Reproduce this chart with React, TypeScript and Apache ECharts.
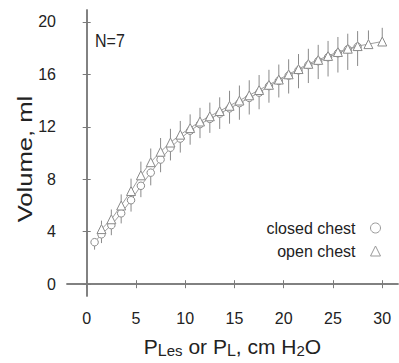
import React, { useEffect, useRef } from "react";
import * as echarts from "echarts";

const closedX = [0.8, 1.5, 2.5, 3.5, 4.5, 5.5, 6.5, 7.5, 8.5, 9.5, 10.5, 11.5, 12.5, 13.5, 14.5, 15.5, 16.5, 17.5, 18.5, 19.5, 20.5, 21.5, 22.5, 23.5, 24.5, 25.5, 26.5, 27.5];
const closedY = [3.2, 3.8, 4.5, 5.4, 6.4, 7.5, 8.5, 9.5, 10.4, 11.1, 11.7, 12.2, 12.6, 13.0, 13.4, 13.8, 14.2, 14.6, 15.1, 15.5, 15.9, 16.3, 16.7, 17.0, 17.3, 17.6, 17.9, 18.1];
const closedErr = [0.3, 0.4, 0.5, 0.5, 0.6, 0.6, 0.7, 0.7, 0.7, 0.8, 0.8, 0.8, 0.8, 0.9, 0.9, 1.0, 1.0, 1.0, 1.0, 1.0, 1.1, 1.1, 1.1, 1.1, 1.2, 1.2, 1.3, 1.2];

const openX = [1.5, 2.5, 3.5, 4.5, 5.5, 6.5, 7.5, 8.5, 9.5, 10.5, 11.5, 12.5, 13.5, 14.5, 15.5, 16.5, 17.5, 18.5, 19.5, 20.5, 21.5, 22.5, 23.5, 24.5, 25.5, 26.5, 27.5, 28.6, 30.0];
const openY = [4.2, 4.95, 6.0, 7.1, 8.3, 9.3, 10.1, 10.8, 11.4, 11.9, 12.4, 12.8, 13.2, 13.6, 14.0, 14.4, 14.8, 15.2, 15.6, 16.0, 16.4, 16.8, 17.1, 17.4, 17.7, 17.95, 18.15, 18.3, 18.5];
const openErr = [0.3, 0.4, 0.5, 0.6, 0.7, 0.7, 0.7, 0.7, 0.7, 0.7, 0.7, 0.7, 0.7, 0.8, 0.8, 0.8, 0.8, 0.8, 0.8, 0.8, 0.8, 0.8, 0.8, 0.8, 0.8, 0.8, 0.8, 0.7, 0.7];

const xTicks = [0, 5, 10, 15, 20, 25, 30];
const yTicks = [0, 4, 8, 12, 16, 20];

const FONT = "'Liberation Sans', Arial, sans-serif";
const AXIS_COLOR = "#7a7a7a";
const MARK_COLOR = "#8a8a8a";

export default function App() {
  const ref = useRef<HTMLDivElement>(null);
  useEffect(() => {
    if (!ref.current) return;
    const chart = echarts.init(ref.current, null, { renderer: "svg" });
    const closedData = closedX.map((x, i) => [x, closedY[i], closedErr[i]]);
    const openData = openX.map((x, i) => [x, openY[i], openErr[i]]);

    const errSeries = (data: number[][], dir: number, offset: number) => ({
      type: "custom",
      silent: true,
      z: 1,
      data,
      encode: { x: 0, y: 1 },
      renderItem: (params: any, api: any) => {
        const x = api.value(0);
        const y = api.value(1);
        const e = api.value(2);
        const c = api.coord([x, y]);
        const t = api.coord([x, y + dir * e]);
        return {
          type: "line",
          shape: { x1: c[0], y1: c[1] - dir * offset, x2: t[0], y2: t[1] - dir * offset },
          style: { stroke: MARK_COLOR, lineWidth: 1 },
        };
      },
    });

    const xBase = {
      type: "value",
      min: -2,
      max: 31.6,
      splitLine: { show: false },
      axisLine: { show: true, lineStyle: { color: AXIS_COLOR, width: 1.5 } },
      axisTick: { show: true, inside: true, length: 4, customValues: xTicks, lineStyle: { color: AXIS_COLOR } },
    };
    const yBase = {
      type: "value",
      min: -0.9,
      max: 20.9,
      splitLine: { show: false },
      axisLine: { show: true, lineStyle: { color: AXIS_COLOR, width: 1.5 } },
      axisTick: { show: true, inside: true, length: 4, customValues: yTicks, lineStyle: { color: AXIS_COLOR } },
    };

    chart.setOption({
      animation: false,
      backgroundColor: "#ffffff",
      textStyle: { fontFamily: FONT },
      grid: { left: 67, right: 1, top: 10, bottom: 66, containLabel: false },
      xAxis: [
        {
          ...xBase,
          position: "bottom",
          axisLabel: { show: true, customValues: xTicks, fontSize: 16, color: "#222", margin: 14, fontFamily: FONT },
          name: "{p|P}{l|L}{s|es}{p| or P}{l|L}{p|, cm H}{s|2}{p|O}",
          nameLocation: "middle",
          nameGap: 38,
          nameTextStyle: {
            fontFamily: FONT,
            color: "#222",
            rich: {
              p: { fontSize: 21, lineHeight: 24, color: "#222", fontFamily: FONT },
              l: { fontSize: 16, lineHeight: 22, verticalAlign: "bottom", color: "#222", fontFamily: FONT },
              s: { fontSize: 15, lineHeight: 12, verticalAlign: "bottom", color: "#222", fontFamily: FONT },
            },
          },
        },
        { ...xBase, position: "top", axisLabel: { show: false } },
      ],
      yAxis: [
        {
          ...yBase,
          position: "left",
          axisLabel: { show: true, customValues: yTicks, fontSize: 16, color: "#222", margin: 11, fontFamily: FONT },
        },
        { ...yBase, position: "right", axisLabel: { show: false } },
      ],
      legend: {
        orient: "vertical",
        right: 18,
        top: 220,
        align: "right",
        padding: 0,
        itemGap: 7,
        itemWidth: 10,
        itemHeight: 10,
        textStyle: { fontSize: 16, color: "#222", fontFamily: FONT, padding: [0, 10, 0, 0] },
        data: [
          { name: "closed chest", icon: "circle", itemStyle: { color: "#fff", borderColor: "#999", borderWidth: 1 } },
          { name: "open chest", icon: "triangle", itemStyle: { color: "#fff", borderColor: "#999", borderWidth: 1 } },
        ],
      },
      graphic: [
        {
          type: "text",
          x: 95,
          y: 40,
          scaleY: 1.2,
          style: { text: "N=7", fontSize: 16, fill: "#222", fontFamily: FONT, verticalAlign: "middle" },
        },
        {
          type: "text",
          x: 25,
          y: 159,
          rotation: Math.PI / 2,
          scaleX: 1.22,
          style: { text: "Volume, ml", fontSize: 21, fill: "#222", fontFamily: FONT, align: "center", verticalAlign: "middle" },
        },
      ],
      series: [
        errSeries(closedData, -1, 3.5),
        errSeries(openData, 1, 4.5),
        {
          name: "closed chest",
          type: "line",
          data: closedData,
          encode: { x: 0, y: 1 },
          symbol: "circle",
          symbolSize: 7.5,
          z: 3,
          lineStyle: { color: "#a0a0a0", width: 1 },
          itemStyle: { color: "#fff", borderColor: MARK_COLOR, borderWidth: 1 },
        },
        {
          name: "open chest",
          type: "line",
          data: openData,
          encode: { x: 0, y: 1 },
          symbol: "triangle",
          symbolSize: 9,
          z: 4,
          lineStyle: { color: "#a0a0a0", width: 1 },
          itemStyle: { color: "#fff", borderColor: MARK_COLOR, borderWidth: 1 },
        },
      ],
    });
    return () => chart.dispose();
  }, []);
  return <div ref={ref} style={{ width: 399, height: 363, position: "fixed", left: 0, top: 0 }} />;
}
